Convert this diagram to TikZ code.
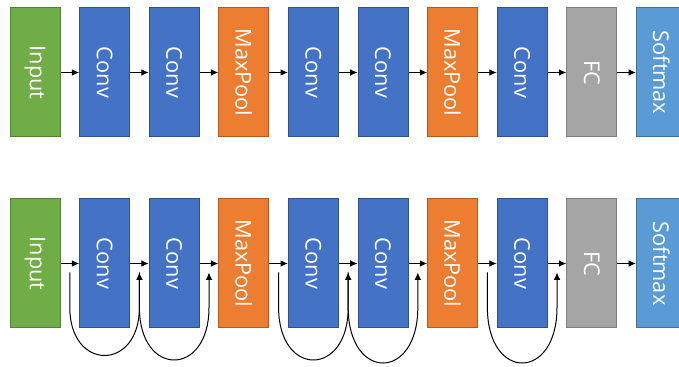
\documentclass[tikz,border=0pt]{standalone}
\usepackage{fontspec}
\setmainfont{Open Sans}
\usetikzlibrary{arrows.meta,calc}
\definecolor{inpFill}{HTML}{70AD47}\definecolor{inpLine}{HTML}{548235}
\definecolor{convFill}{HTML}{4472C4}\definecolor{convLine}{HTML}{2F528F}
\definecolor{poolFill}{HTML}{ED7D31}\definecolor{poolLine}{HTML}{AE5A21}
\definecolor{fcFill}{HTML}{A5A5A5}\definecolor{fcLine}{HTML}{7F7F7F}
\definecolor{softFill}{HTML}{5B9BD5}\definecolor{softLine}{HTML}{41719C}
\begin{document}
\begin{tikzpicture}[x=0.75pt,y=-0.75pt,
  layerbox/.style={rectangle, minimum width=37.5pt, minimum height=96.75pt,
    inner sep=0pt, line width=0.75pt, text=white,
    font=\fontsize{16.3}{19}\selectfont},
  sInput/.style={layerbox, fill=inpFill, draw=inpLine},
  sConv/.style={layerbox, fill=convFill, draw=convLine},
  sPool/.style={layerbox, fill=poolFill, draw=poolLine},
  sFC/.style={layerbox, fill=fcFill, draw=fcLine},
  sSoft/.style={layerbox, fill=softFill, draw=softLine},
  arr/.style={-{Latex[length=5.5pt,width=5pt]}, line width=0.75pt, black}]
\useasboundingbox (0,0) rectangle (679,367);
\clip (0,0) rectangle (679,367);

% two copies of the same layer stack
\foreach \lab/\sty [count=\i from 0] in
  {Input/sInput, Conv/sConv, Conv/sConv, MaxPool/sPool, Conv/sConv,
   Conv/sConv, MaxPool/sPool, Conv/sConv, FC/sFC, Softmax/sSoft} {
  \node[\sty] (t\i) at ({35+69.6*\i},72.5) {\rotatebox{-90}{\lab}};
  \node[\sty] (b\i) at ({35+69.6*\i},263.5) {\rotatebox{-90}{\lab}};
}

% forward connections
\foreach \i [evaluate=\i as \j using int(\i+1)] in {0,...,8} {
  \draw[arr] (t\i.east) -- (t\j.west);
  \draw[arr] (b\i.east) -- (b\j.west);
  \coordinate (g\i) at ($(b\i.east)!0.5!(b\j.west)+(0,9)$);
}

% residual skip connections: straight drop, rounded bottom, straight rise
\foreach \a/\b/\d in {0/1/64, 1/2/70, 3/4/70, 4/5/74, 6/7/74} {
  \draw[arr] (g\a) -- ($(g\a)+(0,35)$)
    .. controls ($(g\a)+(0,35+\d)$) and ($(g\b)+(0,35+\d)$) .. ($(g\b)+(0,35)$)
    -- (g\b);
}
\end{tikzpicture}
\end{document}
